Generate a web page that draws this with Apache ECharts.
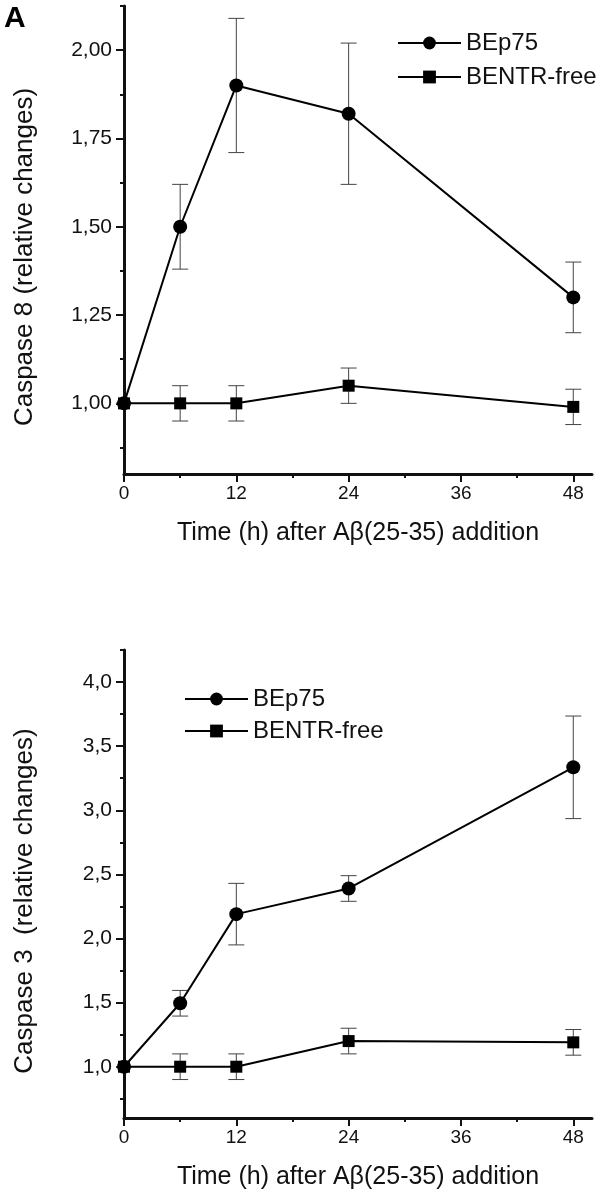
<!DOCTYPE html>
<html>
<head>
<meta charset="utf-8">
<script src="https://cdn.jsdelivr.net/npm/echarts@6/dist/echarts.min.js"></script>
<style>
  html, body { margin: 0; padding: 0; background: #fff; }
  #chart { width: 604px; height: 1200px; }
</style>
</head>
<body>
<div id="chart"></div>
<script>
// time points (h)
const hours = [0, 6, 12, 24, 48]
const seriesNames = ['BEp75', 'BENTR-free']

// Caspase 8 (panel top)
const casp8BEp75 = [1.00, 1.50, 1.90, 1.82, 1.30]
const casp8BEp75Err = [0, 0.12, 0.19, 0.20, 0.10]
const casp8Free = [1.00, 1.00, 1.00, 1.05, 0.99]
const casp8FreeErr = [0, 0.05, 0.05, 0.05, 0.05]

// Caspase 3 (panel bottom)
const casp3BEp75 = [1.00, 1.495, 2.19, 2.39, 3.335]
const casp3BEp75Err = [0, 0.10, 0.24, 0.10, 0.40]
const casp3Free = [1.00, 1.00, 1.00, 1.20, 1.19]
const casp3FreeErr = [0, 0.10, 0.10, 0.10, 0.10]

// ticks
const hourTicks = [0, 12, 24, 36, 48]
const hourMinor = [6, 18, 30, 42]
const c8Ticks = [1.00, 1.25, 1.50, 1.75, 2.00]
const c8Minor = [0.875, 1.125, 1.375, 1.625, 1.875, 2.125]
const c3Ticks = [1.0, 1.5, 2.0, 2.5, 3.0, 3.5, 4.0]
const c3Minor = [0.75, 1.25, 1.75, 2.25, 2.75, 3.25, 3.75, 4.25]

const FONT = '"Liberation Sans", Arial, Helvetica, sans-serif'
const INK = '#111'

const chart = echarts.init(document.getElementById('chart'), null, { renderer: 'canvas' })

const pairs = (ys) => hours.map((h, i) => [h, ys[i]])
const errData = (ys, es) => hours.map((h, i) => [h, ys[i] - es[i], ys[i] + es[i]])

// vertical error bar with caps
const errorBars = (params, api) => {
  const x = api.value(0)
  const lo = api.coord([x, api.value(1)])
  const hi = api.coord([x, api.value(2)])
  const w = 8
  const style = { stroke: '#444', lineWidth: 1 }
  return {
    type: 'group',
    children: [
      { type: 'line', shape: { x1: lo[0], y1: lo[1], x2: hi[0], y2: hi[1] }, style },
      { type: 'line', shape: { x1: hi[0] - w, y1: hi[1], x2: hi[0] + w, y2: hi[1] }, style },
      { type: 'line', shape: { x1: lo[0] - w, y1: lo[1], x2: lo[0] + w, y2: lo[1] }, style }
    ]
  }
}

const mainX = (gridIndex, name) => ({
  type: 'value', gridIndex, position: 'bottom', min: 0, max: 50,
  name, nameLocation: 'middle', nameGap: 47,
  nameTextStyle: { fontFamily: FONT, fontSize: 25, color: INK },
  axisLine: { onZero: false, lineStyle: { color: INK, width: 3 } },
  axisTick: { customValues: hourTicks, length: 8, lineStyle: { color: INK, width: 2 } },
  axisLabel: { customValues: hourTicks, margin: 10, fontFamily: FONT, fontSize: 19, color: INK },
  splitLine: { show: false }
})
const minorX = (gridIndex) => ({
  type: 'value', gridIndex, position: 'bottom', min: 0, max: 50,
  axisLine: { show: false, onZero: false },
  axisTick: { customValues: hourMinor, length: 4, lineStyle: { color: INK, width: 2 } },
  axisLabel: { show: false },
  splitLine: { show: false }
})
const mainY = (gridIndex, min, max, ticks, digits, name) => ({
  type: 'value', gridIndex, position: 'left', min, max,
  name, nameLocation: 'middle', nameGap: 86, nameRotate: 90,
  nameTextStyle: { fontFamily: FONT, fontSize: 26, color: INK, padding: [0, 34, 0, 0] },
  axisLine: { onZero: false, lineStyle: { color: INK, width: 3 } },
  axisTick: { customValues: ticks, length: 8, lineStyle: { color: INK, width: 2 } },
  axisLabel: {
    customValues: ticks, margin: 12, fontFamily: FONT, fontSize: 21, color: INK,
    formatter: v => v.toFixed(digits).replace('.', ',')
  },
  splitLine: { show: false }
})
const minorY = (gridIndex, min, max, ticks) => ({
  type: 'value', gridIndex, position: 'left', min, max,
  axisLine: { show: false, onZero: false },
  axisTick: { customValues: ticks, length: 4, lineStyle: { color: INK, width: 2 } },
  axisLabel: { show: false },
  splitLine: { show: false }
})

const lineSeries = (name, data, axisIdx, symbol, size) => ({
  name, type: 'line', data, xAxisIndex: axisIdx, yAxisIndex: axisIdx,
  symbol, symbolSize: size, clip: false, z: 3,
  itemStyle: { color: '#000' },
  lineStyle: { color: '#000', width: 2 },
  emphasis: { disabled: true }
})
const errSeries = (data, axisIdx) => ({
  type: 'custom', data, xAxisIndex: axisIdx, yAxisIndex: axisIdx,
  renderItem: errorBars, z: 2, clip: false, silent: true,
  encode: { x: 0, y: [1, 2] }
})

const legendBox = (left, top, gap) => ({
  orient: 'vertical', left, top, padding: 0,
  itemWidth: 63, itemHeight: 16, itemGap: gap,
  data: seriesNames,
  textStyle: { fontFamily: FONT, fontSize: 24, color: INK, lineHeight: 28 },
  selectedMode: false
})

const xTitle = 'Time (h) after Aβ(25-35) addition'

const option = {
  backgroundColor: '#fff',
  animation: false,
  title: {
    text: 'A', left: 4, top: 4, padding: 0,
    textStyle: { fontFamily: FONT, fontSize: 30, fontWeight: 'bold', color: '#000' }
  },
  legend: [legendBox(397, 29, 6), legendBox(184, 685, 4)],
  grid: [
    { left: 124, right: 12, top: 6, height: 468 },
    { left: 124, right: 12, top: 650, height: 468 }
  ],
  xAxis: [mainX(0, xTitle), minorX(0), mainX(1, xTitle), minorX(1)],
  yAxis: [
    mainY(0, 0.8, 2.125, c8Ticks, 2, 'Caspase 8 (relative changes)'),
    minorY(0, 0.8, 2.125, c8Minor),
    mainY(1, 0.6, 4.25, c3Ticks, 1, 'Caspase 3  (relative changes)'),
    minorY(1, 0.6, 4.25, c3Minor)
  ],
  series: [
    errSeries(errData(casp8BEp75, casp8BEp75Err), 0),
    errSeries(errData(casp8Free, casp8FreeErr), 0),
    lineSeries('BEp75', pairs(casp8BEp75), 0, 'circle', 14),
    lineSeries('BENTR-free', pairs(casp8Free), 0, 'rect', 12),
    errSeries(errData(casp3BEp75, casp3BEp75Err), 2),
    errSeries(errData(casp3Free, casp3FreeErr), 2),
    lineSeries('BEp75', pairs(casp3BEp75), 2, 'circle', 14),
    lineSeries('BENTR-free', pairs(casp3Free), 2, 'rect', 12)
  ]
}

chart.setOption(option)
</script>
</body>
</html>
